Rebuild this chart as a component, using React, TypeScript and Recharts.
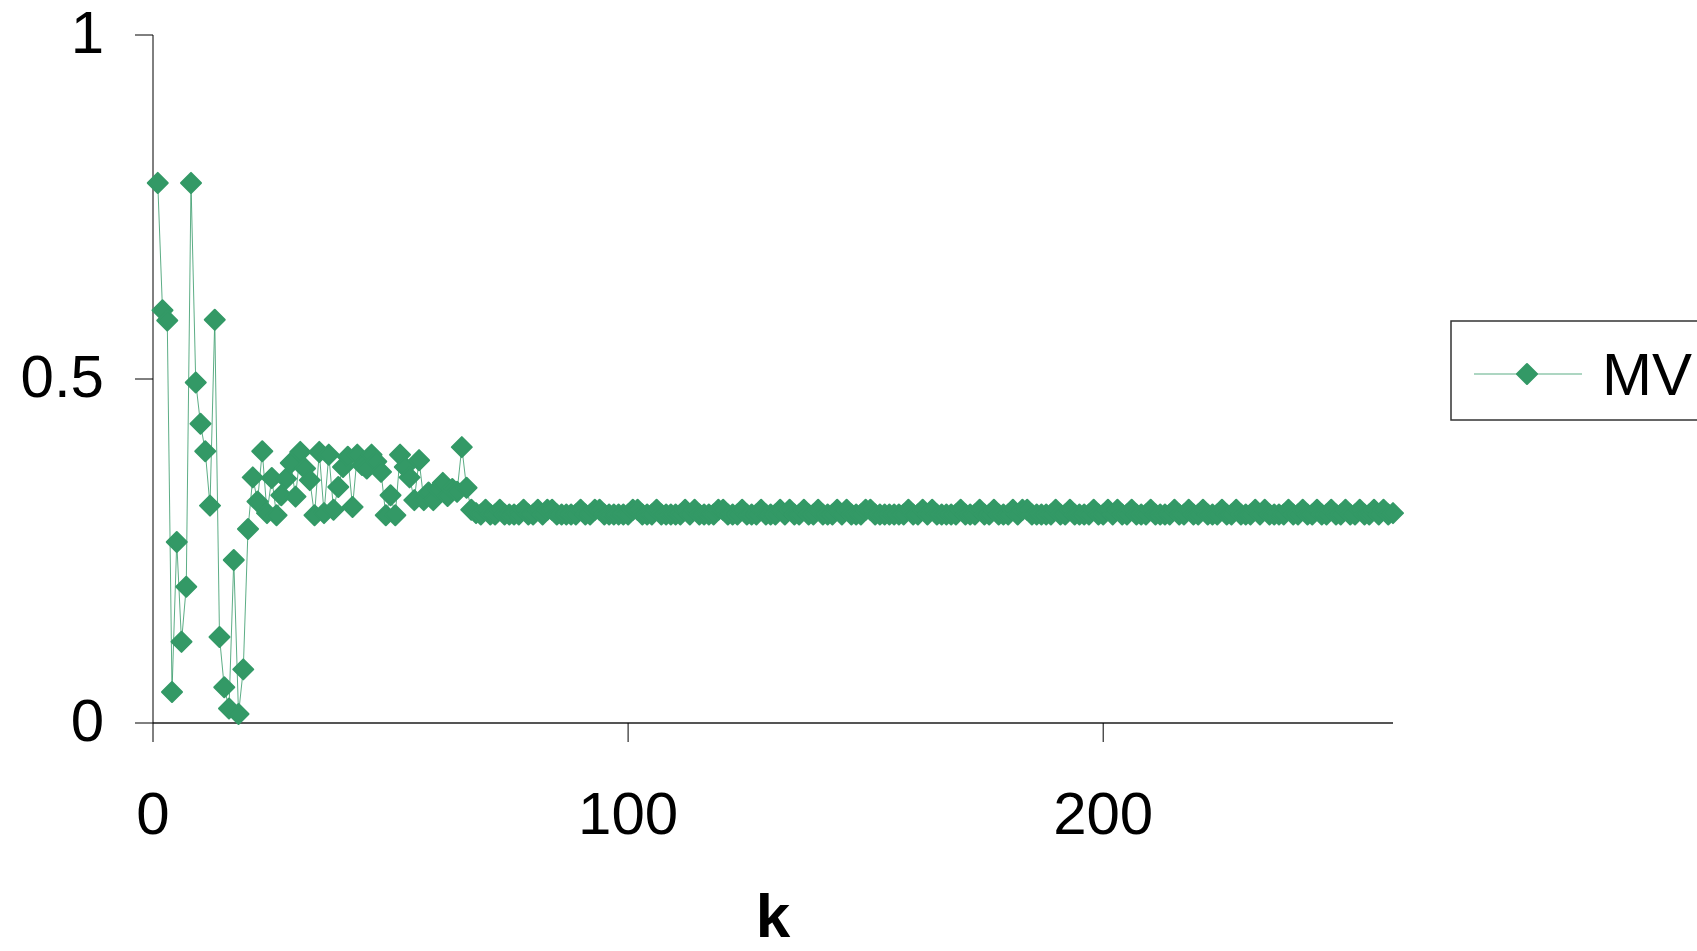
import { Legend, Line, LineChart, XAxis, YAxis, Label } from 'recharts';

// MV values for k = 1, 2, 3, ...
const mvEarly = [
  0.785, 0.6, 0.585, 0.045, 0.263, 0.118, 0.198, 0.785, 0.495, 0.435,
  0.395, 0.316, 0.586, 0.125, 0.052, 0.021, 0.237, 0.013, 0.078,
];
const mvCluster = [
  0.282, 0.357, 0.322, 0.395, 0.305, 0.356, 0.302, 0.331, 0.355, 0.378,
  0.329, 0.394, 0.37, 0.353, 0.302, 0.394, 0.305, 0.39, 0.31, 0.343,
  0.372, 0.387, 0.314, 0.39, 0.375, 0.37, 0.39, 0.38, 0.365, 0.302,
  0.331, 0.302, 0.39, 0.372, 0.357, 0.324, 0.382, 0.324, 0.335, 0.324,
  0.34, 0.349, 0.33, 0.34, 0.336, 0.401, 0.342, 0.31,
];
const mvSteady = [
  0.305, 0.303, 0.31, 0.303, 0.303, 0.31, 0.303, 0.303, 0.303, 0.303,
  0.31, 0.303, 0.303, 0.31, 0.303, 0.31, 0.31, 0.303, 0.303, 0.303,
  0.303, 0.303, 0.31, 0.303, 0.303, 0.31, 0.31, 0.303, 0.303, 0.303,
  0.303, 0.303, 0.303, 0.31, 0.31, 0.303, 0.303, 0.303, 0.31, 0.303,
  0.303, 0.303, 0.303, 0.303, 0.31, 0.303, 0.31, 0.303, 0.303, 0.303,
  0.303, 0.31, 0.31, 0.303, 0.303, 0.303, 0.31, 0.303, 0.303, 0.303,
  0.31, 0.303, 0.303, 0.303, 0.31, 0.303, 0.31, 0.303, 0.303, 0.31,
  0.303, 0.303, 0.31, 0.303, 0.303, 0.303, 0.31, 0.303, 0.31, 0.303,
  0.303, 0.303, 0.31, 0.31, 0.303, 0.303, 0.303, 0.303, 0.303, 0.303,
  0.303, 0.31, 0.303, 0.303, 0.31, 0.303, 0.31, 0.303, 0.303, 0.303,
  0.303, 0.303, 0.31, 0.303, 0.303, 0.303, 0.31, 0.303, 0.303, 0.31,
  0.303, 0.303, 0.303, 0.31, 0.303, 0.31, 0.31, 0.303, 0.303, 0.303,
  0.303, 0.303, 0.31, 0.303, 0.303, 0.31, 0.303, 0.303, 0.303, 0.303,
  0.31, 0.303, 0.303, 0.31, 0.303, 0.31, 0.303, 0.303, 0.31, 0.303,
  0.303, 0.303, 0.31, 0.303, 0.303, 0.303, 0.303, 0.31, 0.303, 0.303,
  0.31, 0.303, 0.303, 0.31, 0.303, 0.303, 0.303, 0.31, 0.303, 0.303,
  0.31, 0.303, 0.303, 0.303, 0.31, 0.303, 0.31, 0.303, 0.303, 0.303,
  0.303, 0.31, 0.303, 0.303, 0.31, 0.303, 0.303, 0.31, 0.303, 0.303,
  0.31, 0.303, 0.303, 0.31, 0.303, 0.303, 0.31, 0.303, 0.303, 0.31,
  0.303, 0.31, 0.303, 0.305,
];
const xTicks = [0, 100, 200];
const yTicks = [0, 0.5, 1];

const mv = [...mvEarly, ...mvCluster, ...mvSteady];
const data = mv.map((v, i) => ({ k: i + 1, mv: v }));

const GREEN = '#339966';
const FONT = '"Liberation Sans", Arial, sans-serif';
const LEGEND_W = 260;

function Diamond(props: any) {
  const { cx, cy } = props;
  if (cx == null || cy == null) return null;
  const r = 10;
  return (
    <path
      d={`M${cx},${cy - r} L${cx + r},${cy} L${cx},${cy + r} L${cx - r},${cy} Z`}
      fill={GREEN}
      stroke={GREEN}
      strokeWidth={2}
      strokeLinejoin="round"
    />
  );
}

function MvLegend() {
  return (
    <svg width={LEGEND_W} height={102} style={{ display: 'block' }}>
      <rect x={1} y={1} width={270} height={99} fill="#fff" stroke="#333" strokeWidth={1.5} />
      <line x1={24} y1={54} x2={132} y2={54} stroke={GREEN} strokeWidth={1.2} strokeOpacity={0.8} />
      <Diamond cx={77} cy={54} />
      <text x={152} y={75} fontFamily={FONT} fontSize={60} fill="#000">
        MV
      </text>
    </svg>
  );
}

export default function App() {
  return (
    <div style={{ position: 'absolute', left: 0, top: 0, width: 1697, height: 951, background: '#fff', overflow: 'hidden' }}>
      <LineChart width={1697} height={951} data={data} margin={{ top: 35, right: 304 - LEGEND_W, bottom: 0, left: 0 }}>
        <XAxis
          dataKey="k"
          type="number"
          domain={[0, 261]}
          ticks={xTicks}
          interval={0}
          height={228}
          tickSize={19}
          tickMargin={49}
          stroke="#555"
          strokeWidth={2}
          tickLine={{ stroke: '#000', strokeWidth: 1 }}
          tick={{ fontSize: 60, fill: '#000', fontFamily: FONT }}
        >
          <Label
            value="k"
            position="insideBottom"
            offset={14}
            style={{ fontSize: 62, fontWeight: 'bold', fill: '#000', fontFamily: FONT }}
          />
        </XAxis>
        <YAxis
          type="number"
          domain={[0, 1]}
          ticks={yTicks}
          interval={0}
          width={153}
          tickSize={18}
          tickMargin={31}
          stroke="#000"
          strokeWidth={1}
          tick={{ fontSize: 60, fill: '#000', fontFamily: FONT, dy: -3 }}
        />
        <Legend
          layout="vertical"
          align="right"
          verticalAlign="top"
          content={<MvLegend />}
          wrapperStyle={{ position: 'absolute', left: 1450, top: 320, width: LEGEND_W }}
        />
        <Line
          type="linear"
          dataKey="mv"
          name="MV"
          stroke={GREEN}
          strokeWidth={1}
          strokeOpacity={0.8}
          dot={<Diamond />}
          activeDot={false}
          isAnimationActive={false}
        />
      </LineChart>
    </div>
  );
}
